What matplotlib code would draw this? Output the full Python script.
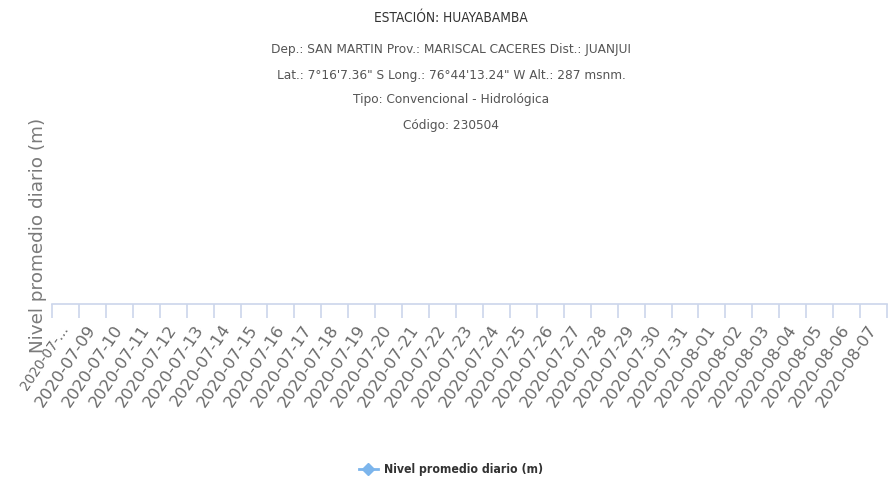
import numpy as np
import matplotlib
matplotlib.use('Agg')
from matplotlib import pyplot as plt
from matplotlib.ticker import FixedLocator

# datos de la estacion (sin registros en el periodo)
fechas = ['2020-07-08', '2020-07-09', '2020-07-10', '2020-07-11', '2020-07-12',
          '2020-07-13', '2020-07-14', '2020-07-15', '2020-07-16', '2020-07-17',
          '2020-07-18', '2020-07-19', '2020-07-20', '2020-07-21', '2020-07-22',
          '2020-07-23', '2020-07-24', '2020-07-25', '2020-07-26', '2020-07-27',
          '2020-07-28', '2020-07-29', '2020-07-30', '2020-07-31', '2020-08-01',
          '2020-08-02', '2020-08-03', '2020-08-04', '2020-08-05', '2020-08-06',
          '2020-08-07']
etiquetas = ['2020-07-…'] + fechas[1:]
niveles = [np.nan, np.nan, np.nan, np.nan, np.nan, np.nan, np.nan, np.nan,
           np.nan, np.nan, np.nan, np.nan, np.nan, np.nan, np.nan, np.nan,
           np.nan, np.nan, np.nan, np.nan, np.nan, np.nan, np.nan, np.nan,
           np.nan, np.nan, np.nan, np.nan, np.nan, np.nan, np.nan]

titulo = 'ESTACIÓN: HUAYABAMBA'
subtitulo = ['Dep.: SAN MARTIN Prov.: MARISCAL CACERES Dist.: JUANJUI',
             'Lat.: 7°16\'7.36" S Long.: 76°44\'13.24" W Alt.: 287 msnm.',
             'Tipo: Convencional - Hidrológica',
             'Código: 230504']
serie = 'Nivel promedio diario (m)'

W, H = 892, 496
cx = 451 / W

fig = plt.figure(figsize=(W / 100, H / 100), dpi=100)
ax = fig.add_axes([52 / W, 1 - 304 / H, 835 / W, 154 / H])

x = np.arange(len(fechas))
ax.plot(x, niveles, color='#7cb5ec', marker='D', ms=6, lw=2, label=serie)

ax.set_xlim(-0.5, len(fechas) - 0.5)
ax.set_ylim(0, 1)
for s in ['top', 'right', 'left']:
    ax.spines[s].set_visible(False)
ax.spines['bottom'].set_color('#ccd6eb')
ax.spines['bottom'].set_linewidth(1.2)
ax.set_yticks([])

ax.set_xticks(x)
ax.set_xticklabels(etiquetas, rotation=56, ha='right', va='center',
                   rotation_mode='anchor', fontsize=11.8, color='#6a6a6a')
ax.get_xticklabels()[0].set_fontsize(9.8)  # etiqueta recortada
ax.xaxis.set_minor_locator(FixedLocator(np.arange(-0.5, len(fechas), 1)))
ax.tick_params(axis='x', which='major', length=0, pad=16)
ax.tick_params(axis='x', which='minor', length=10, width=1.2, color='#ccd6eb')

fig.text(38 / W, 1 - 235 / H, serie, rotation=90, ha='center', va='center',
         fontsize=13.2, color='#7a7a7a')

fig.text(cx, 1 - 18 / H, titulo, ha='center', va='center',
         fontsize=9.8, color='#333333', fontstretch='condensed')
for i, linea in enumerate(subtitulo):
    fig.text(cx, 1 - (50 + 25 * i) / H, linea, ha='center', va='center',
             fontsize=9.7, color='#555555', fontstretch='condensed')

fig.legend(loc='center', bbox_to_anchor=(cx, 1 - 470 / H), frameon=False,
           handlelength=1.6, handletextpad=0.5,
           prop={'weight': 'bold', 'size': 8.8, 'stretch': 'condensed'})
for t in fig.legends[0].get_texts():
    t.set_color('#333333')

plt.savefig('out.png', dpi=100)
